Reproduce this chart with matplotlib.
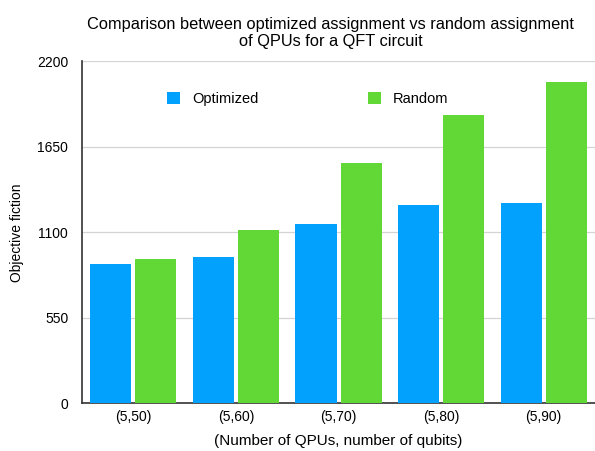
import numpy as np
from matplotlib import pyplot as plt

# QPU assignment results for the QFT circuit
categories = ['(5,50)', '(5,60)', '(5,70)', '(5,80)', '(5,90)']
optimized = [894, 943, 1151, 1276, 1290]
random_assign = [926, 1114, 1548, 1855, 2065]
yticks = [0, 550, 1100, 1650, 2200]

plt.rcParams['font.family'] = ['Liberation Sans', 'DejaVu Sans']

fig = plt.figure(figsize=(5.95, 4.51), dpi=100)
ax = fig.add_axes([0.138, 0.106, 0.862, 0.758])

x = np.arange(len(categories))
w = 0.4
ax.bar(x - 0.22, optimized, w, color='#03A1FE', label='Optimized', zorder=3)
ax.bar(x + 0.22, random_assign, w, color='#61D836', label='Random', zorder=3)

ax.set_xlim(-0.5, len(categories) - 0.5)
ax.set_ylim(0, 2200)
ax.set_yticks(yticks)
ax.set_xticks(x)
ax.set_xticklabels(categories)
ax.tick_params(length=0, labelsize=10)
ax.tick_params(axis='x', pad=5)
ax.tick_params(axis='y', pad=10)
ax.grid(axis='y', color='#d4d4d4', linewidth=0.9, zorder=0)

for s in ['top', 'right']:
    ax.spines[s].set_visible(False)
for s in ['left', 'bottom']:
    ax.spines[s].set_color('#333333')
    ax.spines[s].set_linewidth(1.2)

ax.set_ylabel('Objective fiction', fontsize=10, labelpad=9)
ax.set_xlabel('(Number of QPUs, number of qubits)', fontsize=11, labelpad=7)
ax.set_title('Comparison between optimized assignment vs random assignment\nof QPUs for a QFT circuit',
             fontsize=11.8, pad=11, x=0.485)

ax.legend(loc='upper left', bbox_to_anchor=(0.14, 0.95), ncol=2, frameon=False,
          fontsize=10.5, handlelength=0.9, handleheight=0.9, columnspacing=7.5)

plt.savefig('out.png', dpi=100)
